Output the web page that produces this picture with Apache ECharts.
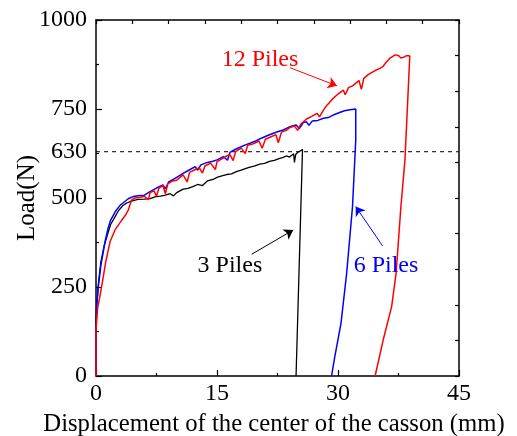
<!DOCTYPE html>
<html>
<head>
<meta charset="utf-8">
<script src="https://cdn.jsdelivr.net/npm/echarts@6/dist/echarts.min.js"></script>
<style>html,body{margin:0;padding:0;background:#fff}#c{width:517px;height:436px}</style>
</head>
<body>
<div id="c"></div>
<script>
// ---- data (displacement mm, load N) ----
const xTicks = [0, 15, 30, 45];
const yTicks = [0, 250, 500, 750, 1000];
const limitLoad = 630;
const labels = ['3 Piles', '6 Piles', '12 Piles'];

const piles3 = [[0,0],[0,150],[0.1,200],[0.3,260],[0.6,320],[1.0,365],[1.4,395],[1.8,425],[2.3,445],[2.8,465],[3.3,478],[3.8,486],[4.5,492],[5.2,496],[6,497],[6.7,498],[7.3,503],[8,505],[8.6,508],[9.2,512],[9.6,506],[10,515],[10.8,525],[11.4,527],[12,532],[12.6,538],[13.2,535],[13.8,548],[14.5,552],[15,558],[15.6,562],[16.2,566],[16.8,568],[17.4,574],[18,578],[18.6,583],[19.1,587],[19.7,590],[20.3,595],[20.9,597],[21.5,603],[22.1,606],[22.6,610],[23.2,614],[23.6,618],[24.0,615],[24.2,620],[24.5,624],[24.6,600],[24.75,622],[25.0,628],[25.3,632],[25.6,636],[25.8,638],[24.8,0]];

const piles6 = [[0,0],[0,130],[0.1,200],[0.29,251],[0.6,310],[1.12,377],[1.5,415],[1.82,438],[2.4,462],[3.0,480],[3.35,486],[4.0,498],[4.6,504],[5.2,506],[6,508],[6.7,518],[7.5,528],[8.3,537],[8.6,526],[9,545],[9.8,555],[10.8,569],[11.5,578],[12.3,588],[12.6,578],[13,593],[13.8,600],[14.5,603],[15,607],[15.8,616],[16.3,606],[16.6,628],[17.3,637],[18,644],[18.6,650],[19.1,654],[19.8,660],[20.5,668],[21.2,675],[22,682],[22.6,687],[23.2,691],[24,700],[24.8,705],[25.2,695],[25.7,712],[26.1,714],[26.4,704],[26.8,716],[27.5,718],[28.2,724],[28.8,726],[29.4,733],[30.2,740],[30.8,745],[31.5,748],[32.2,750],[32.3,748],[32.2,663],[31.8,476],[31.07,288],[30.37,148],[29.6,54],[29.2,0]];

const piles12 = [[0,0],[0,130],[0.2,190],[0.7,251],[1.2,320],[1.74,377],[2.4,412],[3.2,438],[3.6,450],[4.0,466],[4.4,494],[4.8,500],[5.5,502],[6,505],[6.5,495],[6.7,515],[7.2,520],[7.5,505],[7.8,528],[8.3,535],[8.6,512],[8.9,540],[9.5,548],[10,550],[10.8,565],[11.3,545],[11.6,572],[12.3,580],[12.8,585],[13.2,570],[13.5,590],[14.2,598],[14.8,580],[15.0,602],[15.6,610],[16.2,618],[16.6,622],[17.0,605],[17.3,630],[18,640],[18.5,625],[18.8,648],[19.5,652],[20.2,660],[20.6,640],[21,665],[21.7,672],[22.3,678],[22.6,655],[23,685],[23.6,690],[24.05,698],[24.6,702],[25,690],[25.4,708],[26.1,722],[26.8,730],[27.4,738],[27.7,728],[28.2,747],[28.6,760],[29.0,770],[29.4,780],[30.0,792],[30.66,803],[30.9,790],[31.3,810],[31.8,815],[32.3,824],[32.6,830],[32.9,805],[33.2,836],[33.7,846],[34,850],[34.6,858],[35.2,864],[35.6,870],[36,882],[36.4,892],[36.8,898],[37.07,902],[37.5,900],[37.8,893],[38.1,895],[38.5,900],[38.9,899],[38.3,607],[37.8,476],[37.2,288],[36.65,195],[35.6,101],[34.6,0]];

// ---- chart ----
const FONT = 'Liberation Serif';
const chart = echarts.init(document.getElementById('c'), null, {renderer: 'canvas'});
function line(show) { return {show: show, onZero: false, lineStyle: {color: '#000', width: 1.5}}; }
function tick(len) { return {show: true, inside: true, length: len, lineStyle: {color: '#000', width: 1.2}}; }
const plain = v => String(v);

function annotation(text, color, at, from, to) {
  return {
    markPoint: {
      symbol: 'circle', symbolSize: 0, silent: true, animation: false,
      data: [{coord: at, label: {show: true, position: 'inside', formatter: text, color: color, fontSize: 24, fontFamily: FONT}}]
    },
    markLine: {
      silent: true, animation: false, symbol: ['none', 'arrow'], symbolSize: 9,
      label: {show: false},
      lineStyle: {color: color, width: 1, type: 'solid'},
      data: [[{coord: from}, {coord: to}]]
    }
  };
}

const option = {
  animation: false,
  grid: {left: 96, top: 20, right: 58, bottom: 60, containLabel: false, outerBoundsMode: 'none'},
  xAxis: [
    {
      type: 'value', position: 'bottom', min: xTicks[0], max: xTicks[xTicks.length-1], interval: 15,
      axisLine: line(true), axisTick: tick(6),
      minorTick: {show: true, splitNumber: 2, length: 3, lineStyle: {color: '#000', width: 1.2}},
      splitLine: {show: false},
      axisLabel: {color: '#000', fontSize: 24, fontFamily: FONT, margin: 6, formatter: plain},
      name: 'Displacement of the center of the casson (mm)', nameLocation: 'middle', nameGap: 36,
      nameMoveOverlap: false,
      nameTextStyle: {color: '#000', fontSize: 24.7, fontFamily: FONT, padding: [0, 7, 0, 0]}
    },
    {
      type: 'value', position: 'top', min: 0, max: 45, interval: 4.5,
      axisLine: line(true), axisTick: tick(4),
      axisLabel: {show: false}, splitLine: {show: false}
    }
  ],
  yAxis: [
    {
      type: 'value', position: 'left', min: yTicks[0], max: yTicks[yTicks.length-1], interval: 250,
      axisLine: line(true), axisTick: tick(6),
      minorTick: {show: true, splitNumber: 2, length: 3, lineStyle: {color: '#000', width: 1.2}},
      splitLine: {show: false},
      axisLabel: {color: '#000', fontSize: 24, fontFamily: FONT, margin: 9, formatter: plain},
      name: 'Load(N)', nameLocation: 'middle', nameGap: 56, nameRotate: 90,
      nameMoveOverlap: false,
      nameTextStyle: {color: '#000', fontSize: 25, fontFamily: FONT}
    },
    {
      type: 'value', position: 'right', min: 0, max: 1000, interval: 100,
      axisLine: line(true), axisTick: tick(4),
      axisLabel: {show: false}, splitLine: {show: false}
    },
    {
      type: 'value', position: 'left', min: 0, max: 1000, interval: limitLoad,
      axisLine: {show: false}, axisTick: {show: false}, splitLine: {show: false},
      axisLabel: {color: '#000', fontSize: 24, fontFamily: FONT, margin: 9,
        formatter: v => (v === limitLoad ? String(limitLoad) : '')}
    }
  ],
  series: [
    {
      name: 'limit', type: 'line', xAxisIndex: 0, yAxisIndex: 0, symbol: 'none', silent: true,
      data: [[xTicks[0], limitLoad], [xTicks[xTicks.length-1], limitLoad]],
      lineStyle: {color: '#000', width: 1, type: [4, 4]}
    },
    Object.assign({
      name: labels[0], type: 'line', xAxisIndex: 0, yAxisIndex: 0, symbol: 'none', data: piles3,
      lineStyle: {color: '#000', width: 1.3}
    }, annotation(labels[0], '#000', [16.6, 310], [19.3, 342], [24.45, 410])),
    Object.assign({
      name: labels[1], type: 'line', xAxisIndex: 0, yAxisIndex: 0, symbol: 'none', data: piles6,
      lineStyle: {color: '#0000ff', width: 1.5}
    }, annotation(labels[1], '#0000ff', [35.95, 310], [35.54, 365], [32.19, 476])),
    Object.assign({
      name: labels[2], type: 'line', xAxisIndex: 0, yAxisIndex: 0, symbol: 'none', data: piles12,
      lineStyle: {color: '#ff0000', width: 1.5}
    }, annotation(labels[2], '#ff0000', [20.33, 888], [24.05, 866], [29.87, 815]))
  ]
};
chart.setOption(option);
</script>
</body>
</html>
